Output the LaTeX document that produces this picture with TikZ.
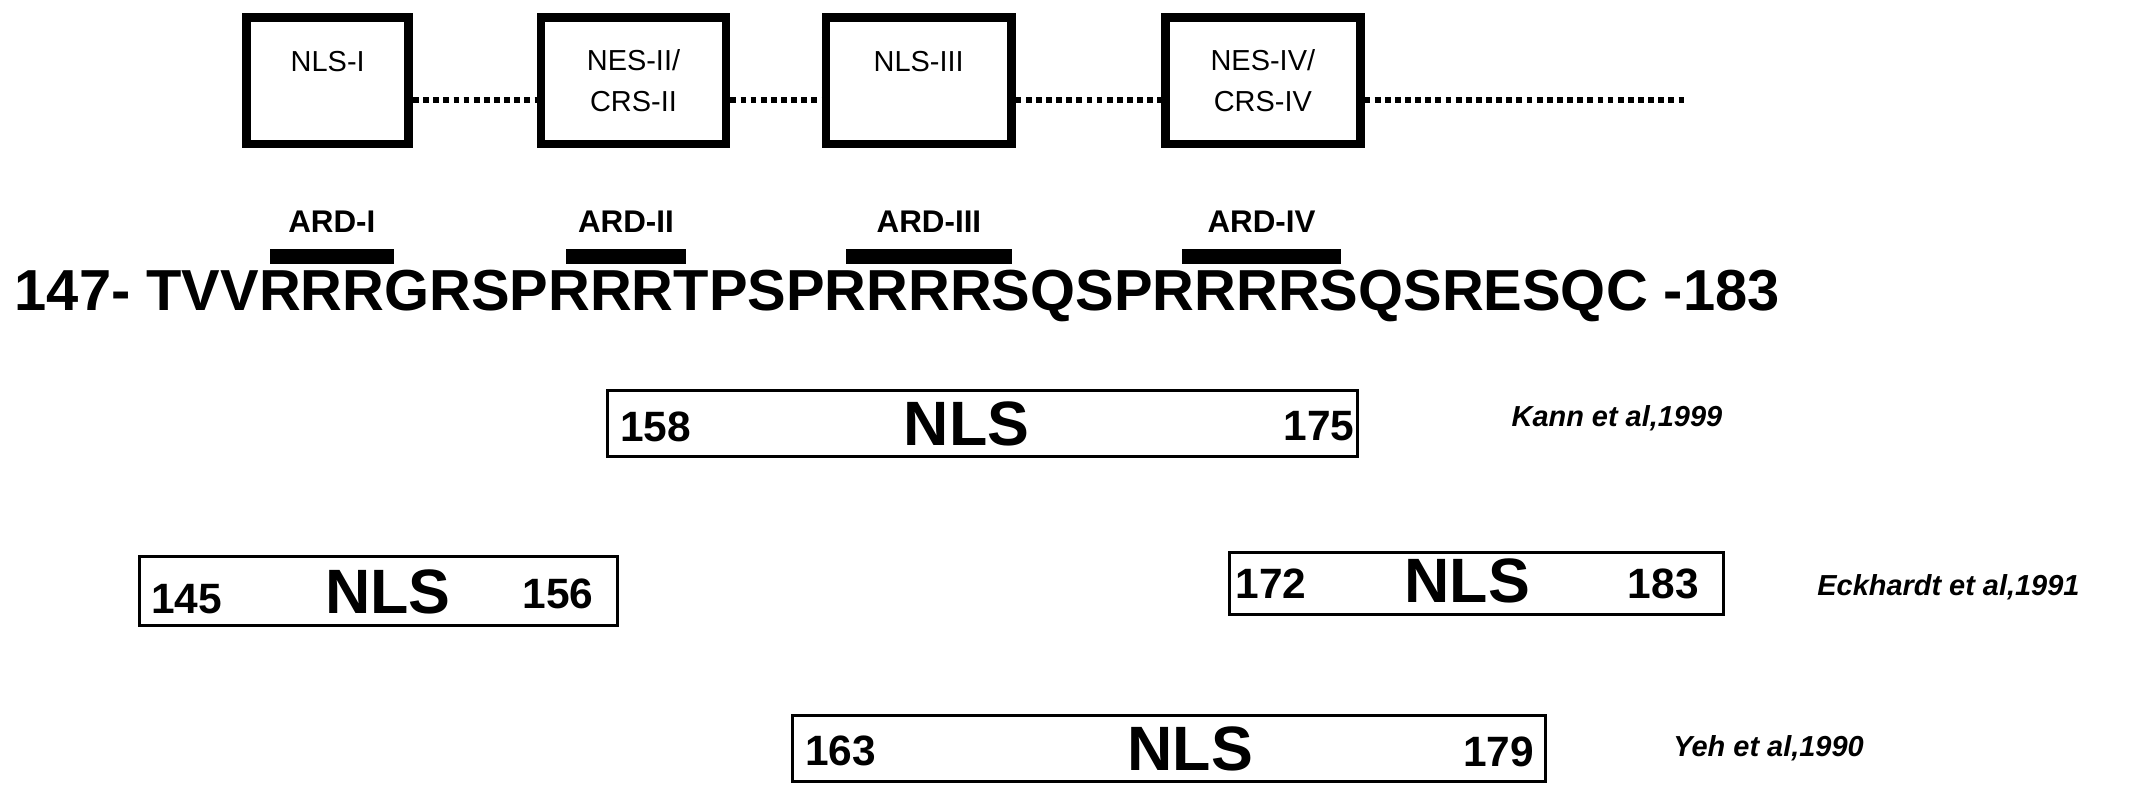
\documentclass[tikz,border=0pt]{standalone}
\usepackage{fontspec}
\setmainfont{Liberation Sans}
\begin{document}
\begin{tikzpicture}[x=0.01cm,y=-0.01cm,
  dombox/.style={draw,line width=1.8pt,minimum width=118\pgflinewidth,inner sep=0pt,align=center,font=\fontsize{6}{8.5}\selectfont},
  dots/.style={line width=1.2pt,dash pattern=on 1.2pt off 0.9pt},
  ardbar/.style={line width=3pt},
  nlsbox/.style={draw,line width=0.6pt,inner sep=0pt},
  num/.style={font=\fontsize{8.8}{10}\selectfont\bfseries},
  big/.style={font=\fontsize{13}{14}\selectfont\bfseries},
  cite/.style={font=\fontsize{6}{7}\selectfont\bfseries\itshape,anchor=west}]
  \useasboundingbox (0,0) rectangle (1568,584);

  % domains
  \node[dombox,minimum width=1.18cm,minimum height=0.92cm] (nls1) at (239,59) {};
  \node[dombox,minimum width=1.35cm,minimum height=0.92cm] (nes2) at (462,59) {};
  \node[dombox,minimum width=1.35cm,minimum height=0.92cm] (nls3) at (670,59) {};
  \node[dombox,minimum width=1.42cm,minimum height=0.92cm] (nes4) at (921,59) {};
  \node[font=\fontsize{6}{8.5}\selectfont] at (239,45) {NLS-I};
  \node[font=\fontsize{6}{8.5}\selectfont,align=center] at (462,59) {NES-II/\\CRS-II};
  \node[font=\fontsize{6}{8.5}\selectfont] at (670,45) {NLS-III};
  \node[font=\fontsize{6}{8.5}\selectfont,align=center] at (921,59) {NES-IV/\\CRS-IV};
  \coordinate (tail) at (1230,73);
  \draw[dots] (nls1.east |- 0,73) -- (nes2.west |- 0,73);
  \draw[dots] (nes2.east |- 0,73) -- (nls3.west |- 0,73);
  \draw[dots] (nls3.east |- 0,73) -- (nes4.west |- 0,73);
  \draw[dots] (nes4.east |- 0,73) -- (tail);

  % ARD labels
  \foreach \name/\a/\b in {ARD-I/197/287,ARD-II/413/500,ARD-III/617/738,ARD-IV/862/978}{
    \draw[ardbar] (\a,187) -- (\b,187);
    \node[font=\fontsize{6.5}{8}\selectfont\bfseries] at ({(\a+\b)/2},162) {\name};
  }

  % sequence
  \node[anchor=west,inner sep=0pt,font=\fontsize{12}{14}\selectfont\bfseries] (seq) at (10,216)
    {147- TVVRRRGRSPRRRTPSPRRRRSQSPRRRRSQSRESQC -183};

  % NLS boxes
  \node[nlsbox,minimum width=5.47cm,minimum height=0.48cm] (kann) at (716.5,309) {};
  \node[num] at (478,311) {158};
  \node[big] at (705,309) {NLS};
  \node[num] at (962,311) {175};
  \node[cite] at (1090,305) {Kann et al,1999};

  \node[nlsbox,minimum width=3.48cm,minimum height=0.50cm] (eck1) at (276,431) {};
  \node[num] at (136,437) {145};
  \node[big] at (283,432) {NLS};
  \node[num] at (407,433) {156};

  \node[nlsbox,minimum width=3.60cm,minimum height=0.45cm] (eck2) at (1077,425.5) {};
  \node[num] at (927,426) {172};
  \node[big] at (1070,424) {NLS};
  \node[num] at (1213,426) {183};
  \node[cite] at (1313,428) {Eckhardt et al,1991};

  \node[nlsbox,minimum width=5.49cm,minimum height=0.48cm] (yeh) at (852.5,546) {};
  \node[num] at (613,548) {163};
  \node[big] at (868,546) {NLS};
  \node[num] at (1093,548) {179};
  \node[cite] at (1208,546) {Yeh et al,1990};
\end{tikzpicture}
\end{document}
